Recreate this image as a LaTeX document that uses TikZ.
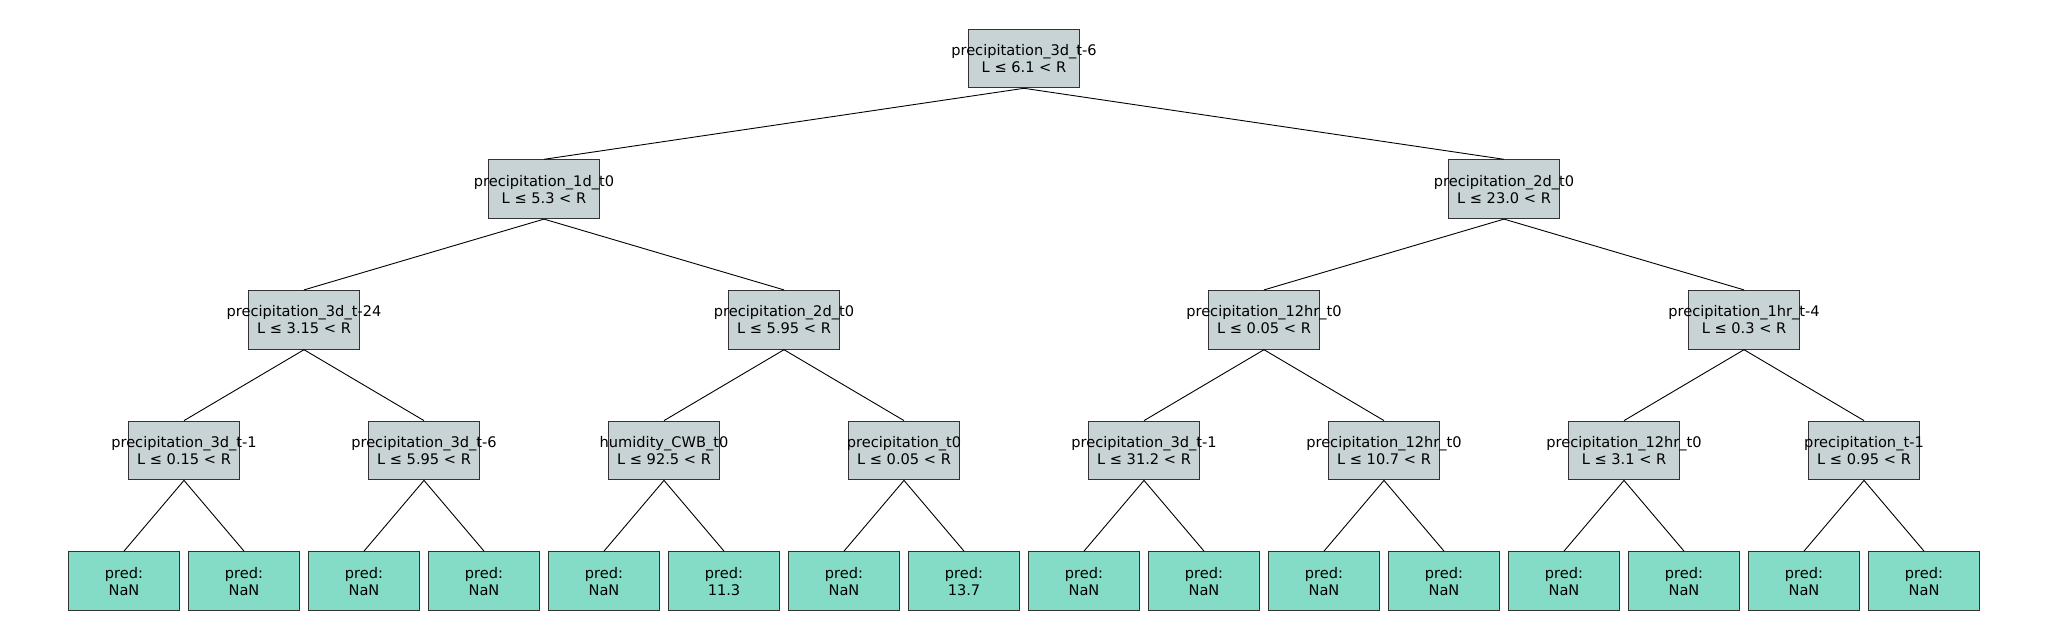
\documentclass[tikz,border=0pt]{standalone}
\usepackage{fontspec}
\setmainfont{DejaVu Sans}
\definecolor{splitfill}{RGB}{199,211,212}
\definecolor{leaffill}{RGB}{132,220,198}
\newcommand{\twolines}[2]{\makebox[0pt]{\raisebox{-2.2pt}[\height][\depth]{\begin{tabular}{@{}c@{}}#1\\#2\end{tabular}}}}
\begin{document}
\begin{tikzpicture}[x=1pt, y=-1pt,
  box/.style={draw=black!80, line width=1.1pt, minimum width=110.6pt,
    minimum height=58.7pt, inner sep=0pt, font=\fontsize{14.6}{17}\selectfont},
  split/.style={box, fill=splitfill},
  leaf/.style={box, fill=leaffill},
  edge/.style={line width=0.9pt}]
\useasboundingbox (0,0) rectangle (2048,640);
% Split nodes, level by level
\node[split] (n1) at (1024, 58.4) {\twolines{precipitation\_3d\_t-6}{L ≤ 6.1 < R}};
\node[split] (n2) at (544, 189.2) {\twolines{precipitation\_1d\_t0}{L ≤ 5.3 < R}};
\node[split] (n3) at (1504, 189.2) {\twolines{precipitation\_2d\_t0}{L ≤ 23.0 < R}};
\node[split] (n4) at (304, 319.8) {\twolines{precipitation\_3d\_t-24}{L ≤ 3.15 < R}};
\node[split] (n5) at (784, 319.8) {\twolines{precipitation\_2d\_t0}{L ≤ 5.95 < R}};
\node[split] (n6) at (1264, 319.8) {\twolines{precipitation\_12hr\_t0}{L ≤ 0.05 < R}};
\node[split] (n7) at (1744, 319.8) {\twolines{precipitation\_1hr\_t-4}{L ≤ 0.3 < R}};
\node[split] (n8) at (184, 450.5) {\twolines{precipitation\_3d\_t-1}{L ≤ 0.15 < R}};
\node[split] (n9) at (424, 450.5) {\twolines{precipitation\_3d\_t-6}{L ≤ 5.95 < R}};
\node[split] (n10) at (664, 450.5) {\twolines{humidity\_CWB\_t0}{L ≤ 92.5 < R}};
\node[split] (n11) at (904, 450.5) {\twolines{precipitation\_t0}{L ≤ 0.05 < R}};
\node[split] (n12) at (1144, 450.5) {\twolines{precipitation\_3d\_t-1}{L ≤ 31.2 < R}};
\node[split] (n13) at (1384, 450.5) {\twolines{precipitation\_12hr\_t0}{L ≤ 10.7 < R}};
\node[split] (n14) at (1624, 450.5) {\twolines{precipitation\_12hr\_t0}{L ≤ 3.1 < R}};
\node[split] (n15) at (1864, 450.5) {\twolines{precipitation\_t-1}{L ≤ 0.95 < R}};
% Leaves
\node[leaf] (l1) at (124, 581) {\twolines{pred:}{NaN}};
\node[leaf] (l2) at (244, 581) {\twolines{pred:}{NaN}};
\node[leaf] (l3) at (364, 581) {\twolines{pred:}{NaN}};
\node[leaf] (l4) at (484, 581) {\twolines{pred:}{NaN}};
\node[leaf] (l5) at (604, 581) {\twolines{pred:}{NaN}};
\node[leaf] (l6) at (724, 581) {\twolines{pred:}{11.3}};
\node[leaf] (l7) at (844, 581) {\twolines{pred:}{NaN}};
\node[leaf] (l8) at (964, 581) {\twolines{pred:}{13.7}};
\node[leaf] (l9) at (1084, 581) {\twolines{pred:}{NaN}};
\node[leaf] (l10) at (1204, 581) {\twolines{pred:}{NaN}};
\node[leaf] (l11) at (1324, 581) {\twolines{pred:}{NaN}};
\node[leaf] (l12) at (1444, 581) {\twolines{pred:}{NaN}};
\node[leaf] (l13) at (1564, 581) {\twolines{pred:}{NaN}};
\node[leaf] (l14) at (1684, 581) {\twolines{pred:}{NaN}};
\node[leaf] (l15) at (1804, 581) {\twolines{pred:}{NaN}};
\node[leaf] (l16) at (1924, 581) {\twolines{pred:}{NaN}};
% Edges
\draw[edge] (n1.south) -- (n2.north);
\draw[edge] (n1.south) -- (n3.north);
\draw[edge] (n2.south) -- (n4.north);
\draw[edge] (n2.south) -- (n5.north);
\draw[edge] (n3.south) -- (n6.north);
\draw[edge] (n3.south) -- (n7.north);
\draw[edge] (n4.south) -- (n8.north);
\draw[edge] (n4.south) -- (n9.north);
\draw[edge] (n5.south) -- (n10.north);
\draw[edge] (n5.south) -- (n11.north);
\draw[edge] (n6.south) -- (n12.north);
\draw[edge] (n6.south) -- (n13.north);
\draw[edge] (n7.south) -- (n14.north);
\draw[edge] (n7.south) -- (n15.north);
\draw[edge] (n8.south) -- (l1.north);
\draw[edge] (n8.south) -- (l2.north);
\draw[edge] (n9.south) -- (l3.north);
\draw[edge] (n9.south) -- (l4.north);
\draw[edge] (n10.south) -- (l5.north);
\draw[edge] (n10.south) -- (l6.north);
\draw[edge] (n11.south) -- (l7.north);
\draw[edge] (n11.south) -- (l8.north);
\draw[edge] (n12.south) -- (l9.north);
\draw[edge] (n12.south) -- (l10.north);
\draw[edge] (n13.south) -- (l11.north);
\draw[edge] (n13.south) -- (l12.north);
\draw[edge] (n14.south) -- (l13.north);
\draw[edge] (n14.south) -- (l14.north);
\draw[edge] (n15.south) -- (l15.north);
\draw[edge] (n15.south) -- (l16.north);
\end{tikzpicture}
\end{document}
